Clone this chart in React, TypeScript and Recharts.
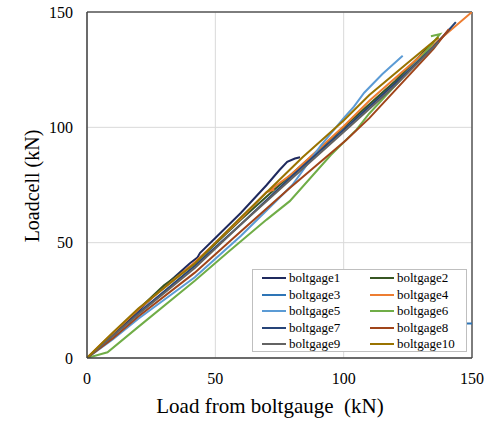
import React from 'react';
import { LineChart, Line, XAxis, YAxis, CartesianGrid, Legend, ReferenceLine, Label } from 'recharts';

type P = { x: number; y: number };
const pts = (a: number[][]): P[] => a.map(([x, y]) => ({ x, y }));

const xTicks = [0, 50, 100, 150];
const yTicks = [0, 50, 100, 150];

const boltgage1 = pts([[0,0],[10,10],[20,20.5],[30,31],[40,41],[43,43.5],[44,45.5],[50,52],[60,63],[70,75],[75,81.5],[78,85],[81,86.5],[83,87]]);
const boltgage2 = pts([[0,0],[10,10.5],[20,21],[30,31.5],[42,41],[60,60],[80,80],[100,100],[120,120],[135,137]]);
const boltgage3 = pts([[70,15],[120,15],[170,15]]);
const boltgage4 = pts([[0,0],[5,5.5],[20,21],[42,41.5],[60,60.5],[70,72],[73,73],[71,72.5],[80,80],[100,100.5],[110,111.5],[130,131],[150,150]]);
const boltgage5 = pts([[0,0],[10,8],[20,17],[42,35],[60,53],[80,75],[91,92],[100,104],[104,109],[108,115],[115,123],[123,131]]);
const boltgage6 = pts([[0,0],[8,2.5],[20,13.5],[42,33.5],[55,46],[70,60],[79,68],[95,88],[105,99],[110,106],[120,118],[130,130],[137.5,140.4],[134,139.5]]);
const boltgage7 = pts([[0,0],[10,9.5],[20,19.5],[42,40],[60,58],[80,79],[100,99],[120,119],[135,135],[140,141],[143.7,145.6]]);
const boltgage8 = pts([[0,0],[10,8.5],[20,18],[42,37],[60,55],[79,73.7],[101,94.5],[110,104],[125,122],[135,134],[141,142.6]]);
const boltgage9 = pts([[0,0],[10,9.5],[20,19],[42,39],[60,58],[80,78],[100,98],[120,118],[137,137]]);
const boltgage10 = pts([[0,0],[10,11],[20,21.5],[42,41],[60,61],[84,87],[100,103],[110,114],[125,128],[137,139]]);

const seriesNames = ['boltgage1','boltgage2','boltgage3','boltgage4','boltgage5','boltgage6','boltgage7','boltgage8','boltgage9','boltgage10'];
const seriesData = [boltgage1,boltgage2,boltgage3,boltgage4,boltgage5,boltgage6,boltgage7,boltgage8,boltgage9,boltgage10];
const seriesColors = ['#1F2A5E','#375623','#2E75B6','#ED7D31','#5B9BD5','#70AD47','#264478','#A0451A','#636363','#997300'];

const FONT = "'Liberation Serif', 'Times New Roman', serif";

const renderLegend = () => (
  <div style={{ width: 213, height: 81, border: '1px solid #BFBFBF', background: '#fff', fontFamily: FONT, fontSize: 13, color: '#000', boxSizing: 'content-box', display: 'grid', gridTemplateColumns: '108px 105px', gridAutoRows: '16.5px' }}>
    {seriesNames.map((n, i) => (
      <div key={n} style={{ display: 'flex', alignItems: 'center', paddingLeft: 9, height: 16.5 }}>
        <span style={{ display: 'inline-block', width: 24, height: 2, background: seriesColors[i], marginRight: 3 }} />
        <span style={{ lineHeight: '16.5px' }}>{n}</span>
      </div>
    ))}
  </div>
);

const XTick = (props: any) => {
  const { x, y, payload } = props;
  return (
    <text x={x} y={y + 26} textAnchor="middle" fontFamily={FONT} fontSize={16} fill="#000">{payload.value}</text>
  );
};

const YTick = (props: any) => {
  const { y, payload } = props;
  return (
    <text x={73} y={y + 5.5} textAnchor="end" fontFamily={FONT} fontSize={16} fill="#000">{payload.value}</text>
  );
};

export default function App() {
  return (
    <div style={{ position: 'absolute', left: 0, top: 0, width: 490, height: 421, background: '#fff' }}>
      <LineChart width={490} height={421} margin={{ top: 12, right: 18, bottom: 33, left: 27 }}>
        <CartesianGrid stroke="#D9D9D9" strokeWidth={1} />
        <XAxis type="number" dataKey="x" domain={[0, 150]} ticks={xTicks} allowDataOverflow height={30}
          tickLine={false} tickSize={0} tickMargin={0} stroke="#404040" strokeWidth={1.5}
          tick={<XTick />}>
          <Label content={() => (
            <text x={270} y={413} textAnchor="middle" fontFamily={FONT} fontSize={21} fill="#000">{'Load from boltgauge\u00a0\u00a0(kN)'}</text>
          )} />
        </XAxis>
        <YAxis type="number" dataKey="y" domain={[0, 150]} ticks={yTicks} allowDataOverflow width={60}
          tickLine={false} tickSize={0} tickMargin={0} stroke="#404040" strokeWidth={1.5}
          tick={<YTick />}>
          <Label content={() => (
            <text x={39} y={186} textAnchor="middle" fontFamily={FONT} fontSize={20} fill="#000" transform="rotate(-90, 39, 186)">Loadcell (kN)</text>
          )} />
        </YAxis>
        <ReferenceLine x={150} stroke="#595959" strokeWidth={1.5} />
        <ReferenceLine y={150} stroke="#595959" strokeWidth={1.5} />
        {seriesNames.map((n, i) => (
          <Line key={n} name={n} data={seriesData[i]} dataKey="y" type="linear" stroke={seriesColors[i]} strokeWidth={2}
            dot={false} activeDot={false} isAnimationActive={false} />
        ))}
        <Legend content={renderLegend} layout="horizontal" verticalAlign="middle" align="center"
          wrapperStyle={{ position: 'absolute', left: 252, top: 269, width: 215, height: 83 }} />
      </LineChart>
    </div>
  );
}
